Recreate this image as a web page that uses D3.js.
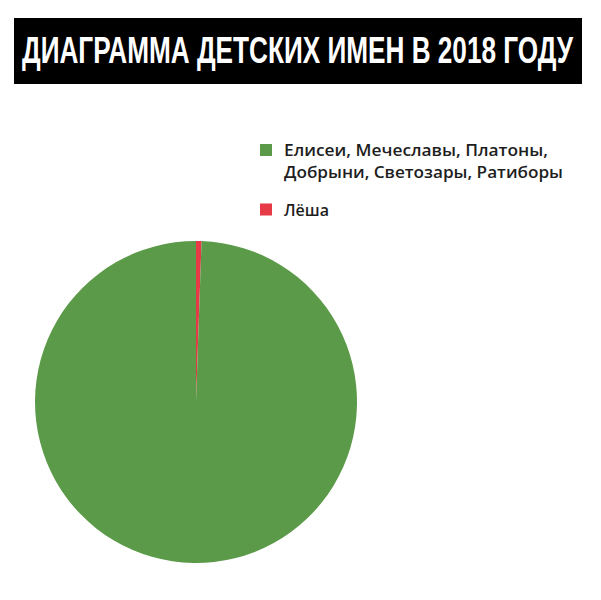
<!DOCTYPE html>
<html>
<head>
<meta charset="utf-8">
<script src="https://cdn.jsdelivr.net/npm/d3@7"></script>
<style>
  html, body { margin: 0; padding: 0; background: #fff; }
  svg { display: block; }
</style>
</head>
<body>
<svg id="chart" width="601" height="600"></svg>
<script>
const titleText = "ДИАГРАММА ДЕТСКИХ ИМЕН В 2018 ГОДУ";
const categories = ["Елисеи, Мечеславы, Платоны, Добрыни, Светозары, Ратиборы", "Лёша"];
const legendLines = [["Елисеи, Мечеславы, Платоны,", "Добрыни, Светозары, Ратиборы"], ["Лёша"]];
const values = [99.45, 0.55];
const colors = ["#5b9a48", "#e63a47"];

const svg = d3.select("#chart");

// title banner
svg.append("rect").attr("x", 14).attr("y", 18).attr("width", 568).attr("height", 66).attr("fill", "#000");
svg.append("text")
  .attr("x", 22).attr("y", 63)
  .attr("textLength", 551).attr("lengthAdjust", "spacingAndGlyphs")
  .style("font-family", "'Liberation Sans Narrow', 'Liberation Sans', sans-serif")
  .style("font-weight", "bold").style("font-size", "36.5px")
  .attr("fill", "#fff")
  .text(titleText);

// pie
const data = categories.map((c, i) => ({ name: c, value: values[i], color: colors[i] }));
const pie = d3.pie().value(d => d.value).sort(null);
const arcs = pie(data.slice().reverse());
const arc = d3.arc().innerRadius(0).outerRadius(161);
const g = svg.append("g").attr("transform", "translate(196,402)");
g.selectAll("path").data(arcs).join("path")
  .attr("d", arc)
  .attr("fill", d => d.data.color);

// legend
const legendY = [144, 203.5];
const leg = svg.append("g");
data.forEach((d, i) => {
  leg.append("rect").attr("x", 260).attr("y", legendY[i]).attr("width", 12).attr("height", 12).attr("fill", d.color);
  legendLines[i].forEach((line, j) => {
    const widths = i === 0 ? [264, 279] : [null];
    const t = leg.append("text")
      .attr("x", 284).attr("y", legendY[i] + 12 + j * 21.5)
      .style("font-family", "'Open Sans', 'Noto Sans', sans-serif")
      .style("font-weight", "600")
      .style("font-size", "16px")
      .attr("fill", "#1e1e1e")
      .text(line);
    if (widths[j]) t.attr("textLength", widths[j]).attr("lengthAdjust", "spacingAndGlyphs");
  });
});
</script>
</body>
</html>
